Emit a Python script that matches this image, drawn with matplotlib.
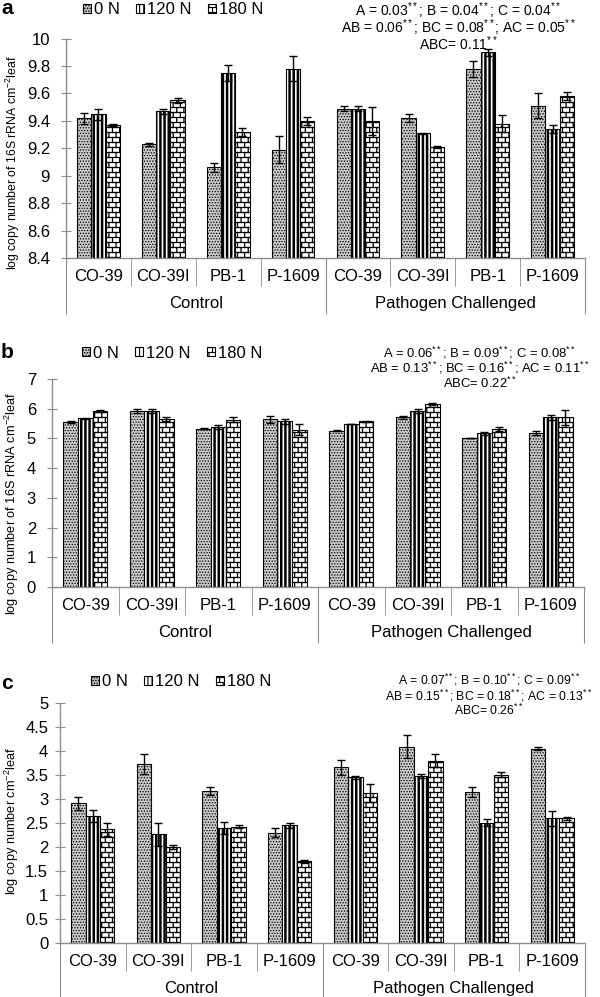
import warnings
import numpy as np
import matplotlib
matplotlib.use('Agg')
import matplotlib.pyplot as plt
from matplotlib import hatch as mhatch
from matplotlib.path import Path
from matplotlib.ticker import FuncFormatter

warnings.filterwarnings('ignore')

plt.rcParams['font.family'] = ['Liberation Sans', 'DejaVu Sans']
plt.rcParams['mathtext.fontset'] = 'custom'
plt.rcParams['mathtext.rm'] = 'Liberation Sans'
plt.rcParams['mathtext.it'] = 'Liberation Sans:italic'
plt.rcParams['mathtext.bf'] = 'Liberation Sans:bold'
plt.rcParams['hatch.linewidth'] = 0.8

cultivars = ['CO-39', 'CO-39I', 'PB-1', 'P-1609']
groups = ['Control', 'Pathogen Challenged']
doses = ['0 N', '120 N', '180 N']

# panel a - 16S rRNA, log copies
a_vals = [
    [9.42, 9.23, 9.06, 9.19, 9.49, 9.42, 9.78, 9.51],
    [9.45, 9.47, 9.75, 9.78, 9.49, 9.31, 9.90, 9.34],
    [9.37, 9.55, 9.32, 9.40, 9.40, 9.21, 9.38, 9.58],
]
a_errs = [
    [0.04, 0.01, 0.03, 0.10, 0.02, 0.03, 0.06, 0.09],
    [0.04, 0.02, 0.06, 0.09, 0.02, 0.005, 0.025, 0.03],
    [0.01, 0.02, 0.03, 0.03, 0.10, 0.005, 0.06, 0.03],
]
a_ticks = [8.4, 8.6, 8.8, 9.0, 9.2, 9.4, 9.6, 9.8, 10.0]

# panel b
b_vals = [
    [5.56, 5.93, 5.33, 5.65, 5.26, 5.71, 5.03, 5.17],
    [5.68, 5.93, 5.38, 5.57, 5.48, 5.93, 5.17, 5.71],
    [5.92, 5.65, 5.63, 5.29, 5.57, 6.15, 5.32, 5.71],
]
b_errs = [
    [0.03, 0.07, 0.02, 0.12, 0.02, 0.05, 0.0, 0.07],
    [0.01, 0.07, 0.06, 0.08, 0.01, 0.07, 0.06, 0.08],
    [0.02, 0.06, 0.08, 0.18, 0.02, 0.04, 0.08, 0.25],
]
b_ticks = [0, 1, 2, 3, 4, 5, 6, 7]

# panel c
c_vals = [
    [2.91, 3.73, 3.17, 2.30, 3.66, 4.09, 3.14, 4.05],
    [2.65, 2.27, 2.40, 2.45, 3.45, 3.48, 2.51, 2.60],
    [2.37, 2.00, 2.42, 1.70, 3.12, 3.80, 3.51, 2.60],
]
c_errs = [
    [0.14, 0.20, 0.09, 0.10, 0.16, 0.24, 0.10, 0.03],
    [0.13, 0.24, 0.13, 0.05, 0.03, 0.05, 0.07, 0.16],
    [0.14, 0.05, 0.03, 0.03, 0.19, 0.13, 0.05, 0.03],
]
c_ticks = [0, 0.5, 1, 1.5, 2, 2.5, 3, 3.5, 4, 4.5, 5]

a_stats = ['A = 0.03$^{**}$; B = 0.04$^{**}$; C = 0.04$^{**}$',
           'AB = 0.06$^{**}$; BC = 0.08$^{**}$; AC = 0.05$^{**}$',
           'ABC= 0.11$^{**}$']
b_stats = ['A = 0.06$^{**}$; B = 0.09$^{**}$; C = 0.08$^{**}$',
           'AB = 0.13$^{**}$; BC = 0.16$^{**}$; AC = 0.11$^{**}$',
           'ABC= 0.22$^{**}$']
c_stats = ['A = 0.07$^{**}$; B = 0.10$^{**}$; C = 0.09$^{**}$',
           'AB = 0.15$^{**}$; BC = 0.18$^{**}$; AC = 0.13$^{**}$',
           'ABC= 0.26$^{**}$']


# brick hatch (excel style) registered as 'b'
class Bricks(mhatch.HatchPatternBase):
    def __init__(self, hatch, density):
        n = hatch.count('b')
        self.rows = 20
        self.cols = 14
        if n:
            self.num_lines = self.rows + self.rows * self.cols + self.cols
        else:
            self.num_lines = 0
        self.num_vertices = self.num_lines * 2

    def set_vertices_and_codes(self, vertices, codes):
        h = 1.0 / self.rows
        w = 1.0 / self.cols
        segs = []
        for r in range(self.rows):
            y = (r + 0.5) * h
            segs.append((0, y, 1, y))
            off = 0.5 * w if r % 2 else 0.0
            for c in range(self.cols):
                x = c * w + off + 0.25 * w
                y2 = 1.0 if r == self.rows - 1 else y + h
                segs.append((x, y, x, y2))
        off = 0.5 * w if (self.rows - 1) % 2 else 0.0
        for c in range(self.cols):
            x = c * w + off + 0.25 * w
            segs.append((x, 0.0, x, 0.5 * h))
        segs = np.array(segs)
        vertices[0::2] = segs[:, :2]
        vertices[1::2] = segs[:, 2:]
        codes[0::2] = Path.MOVETO
        codes[1::2] = Path.LINETO


mhatch._hatch_types.append(Bricks)

styles = [
    dict(color='#c8c8c8', hatch='......', hlw=0.6),
    dict(color='white', hatch='||||', hlw=1.8),
    dict(color='white', hatch='b', hlw=0.9),
]
grey = '#8c8c8c'

fig = plt.figure(figsize=(6, 9.97), dpi=100)
W, H = 600.0, 997.0


def fx(px):
    return px / W


def fy(py):
    return 1 - py / H


def panel(rect, vals, errs, ticks, letter, stats, ylabel, legend_xy, stats_pos,
          label_xy, ypad):
    x0, x1, ytop, ybot = rect
    ax = fig.add_axes([fx(x0), fy(ybot), fx(x1 - x0), (ybot - ytop) / H])
    x = np.arange(8) + 0.5
    w = 0.22
    for i in range(3):
        st = styles[i]
        bars = ax.bar(x + (i - 1) * w, vals[i], w, color=st['color'],
                      edgecolor='black', linewidth=0.8, hatch=st['hatch'],
                      label=doses[i], zorder=2)
        for b in bars:
            if hasattr(b, 'set_hatch_linewidth'):
                b.set_hatch_linewidth(st['hlw'])
        ax.errorbar(x + (i - 1) * w, vals[i], yerr=errs[i], fmt='none',
                    ecolor='black', elinewidth=1, capsize=3, capthick=1,
                    zorder=3)
    ax.set_ylim(ticks[0], ticks[-1])
    ax.set_yticks(ticks)
    ax.yaxis.set_major_formatter(FuncFormatter(lambda v, p: f'{v:g}'))
    ax.tick_params(axis='y', direction='inout', length=7, color=grey,
                   labelsize=12, pad=ypad)
    ax.set_xlim(0, 8)
    ax.set_xticks([0, 4, 8])
    ax.set_xticks([1, 2, 3, 5, 6, 7], minor=True)
    ax.tick_params(axis='x', which='major', direction='out', length=40,
                   color=grey, labelbottom=False)
    ax.tick_params(axis='x', which='minor', direction='out', length=20,
                   color=grey, labelbottom=False)
    for s in ['top', 'right']:
        ax.spines[s].set_visible(False)
    for s in ['left', 'bottom']:
        ax.spines[s].set_color(grey)
        ax.spines[s].set_linewidth(1)
    for k, name in enumerate(cultivars * 2):
        ax.annotate(name, xy=(k + 0.5, 0), xycoords=('data', 'axes fraction'),
                    xytext=(0, -13.5), textcoords='offset points',
                    ha='center', va='center', fontsize=12)
    for g, name in enumerate(groups):
        ax.annotate(name, xy=(g * 4 + 2, 0), xycoords=('data', 'axes fraction'),
                    xytext=(0, -33), textcoords='offset points',
                    ha='center', va='center', fontsize=12)
    ax.legend(loc='center', bbox_to_anchor=(fx(legend_xy[0]), fy(legend_xy[1])),
              bbox_transform=fig.transFigure, ncol=3, frameon=False,
              fontsize=12, handlelength=0.5, handleheight=0.5,
              handletextpad=0.15, columnspacing=1.0, borderpad=0)
    fig.text(fx(label_xy[0]), fy(label_xy[1]), letter, fontsize=15,
             fontweight='bold', ha='center', va='center')
    sx, sy, ssize, sls = stats_pos
    fig.text(fx(sx), fy(sy), '\n'.join(stats), fontsize=ssize,
             ha='center', va='top', multialignment='center', linespacing=sls)
    fig.text(fx(ylabel[1]), fy(ylabel[2]), ylabel[0], rotation=90,
             fontsize=ylabel[3], ha='center', va='center')
    return ax


panel((66, 585, 38.6, 258), a_vals, a_errs, a_ticks, 'a', a_stats,
      ('log copy number of 16S rRNA cm$^{-2}$leaf', 13, 163, 8.8),
      (173, 10), (458, 0.5, 10.0, 0.78), (7, 9), 8)
panel((52, 584, 379, 587), b_vals, b_errs, b_ticks, 'b', b_stats,
      ('log copy number of 16S rRNA cm$^{-2}$leaf', 12, 503, 9.2),
      (172, 353), (480, 345, 9.4, 0.92), (7, 352), 8)
panel((60, 585, 703, 943), c_vals, c_errs, c_ticks, 'c', c_stats,
      ('log copy number cm$^{-2}$leaf', 12, 821, 9.2),
      (181, 682), (489, 672, 8.8, 0.95), (7, 683), 5)

fig.savefig('out.png', dpi=100)
plt.close(fig)
